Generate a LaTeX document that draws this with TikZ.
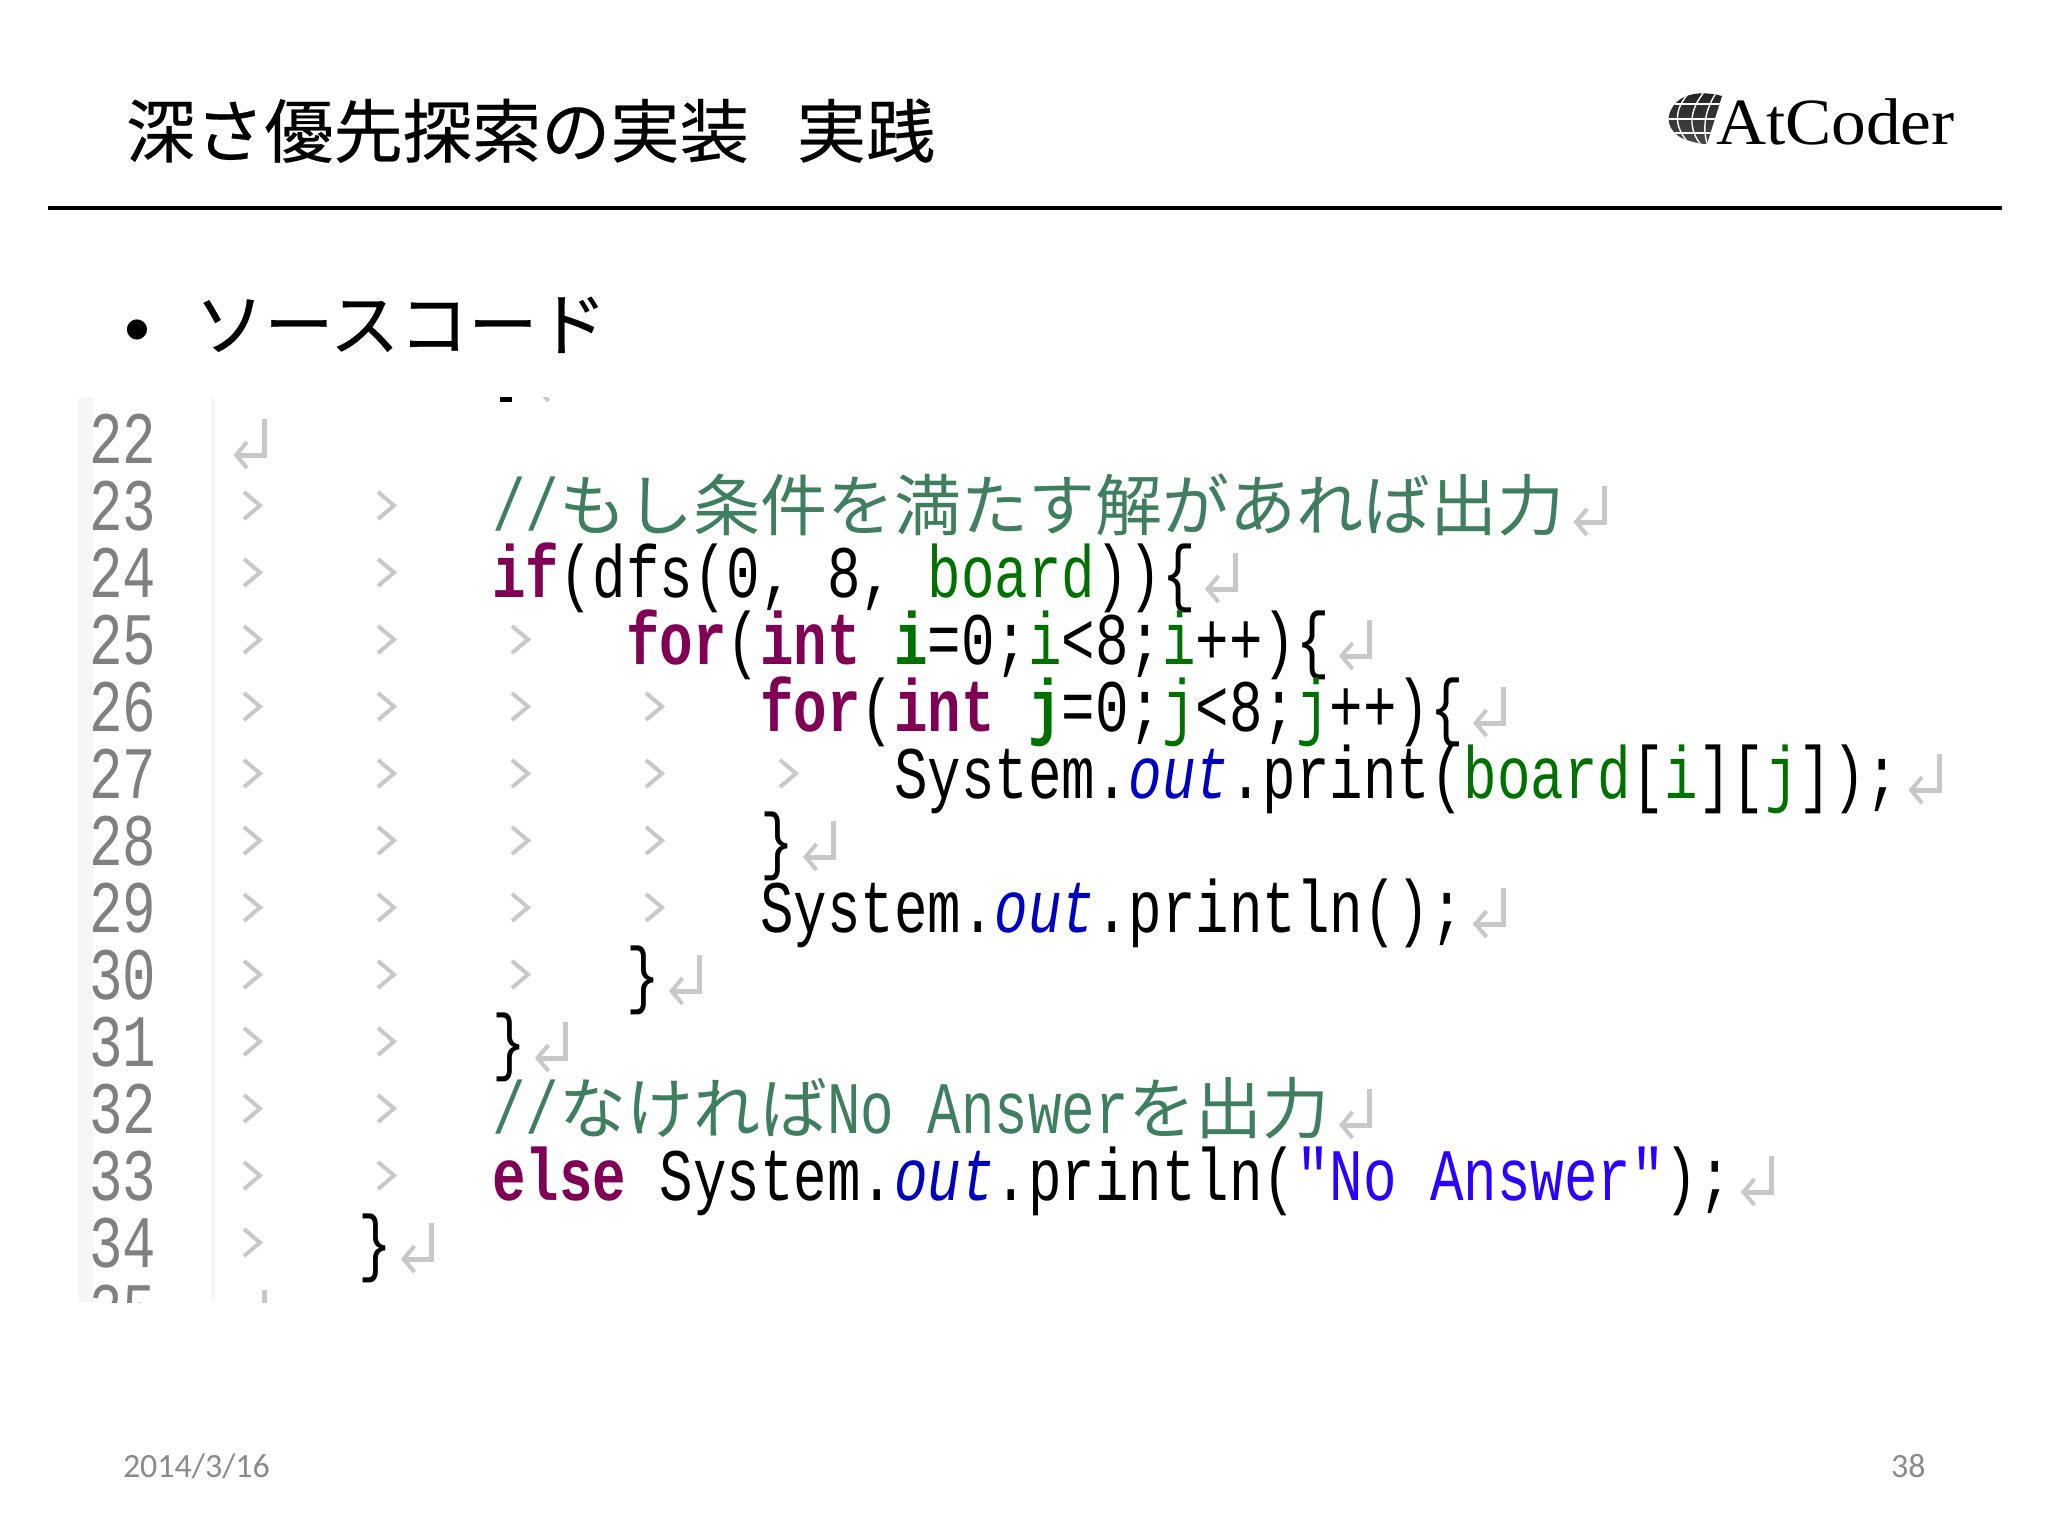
\documentclass[tikz,border=0pt]{standalone}
\usepackage{fontspec}
\setmainfont{Liberation Sans}
\newfontfamily\jp{Noto Sans CJK JP}
\newfontfamily\jph[FakeBold=0.35]{Noto Sans CJK JP}
\newfontfamily\codef[FakeStretch=0.7545]{Liberation Mono}
\newfontfamily\logof[FakeStretch=1.05]{Liberation Serif}
\newfontfamily\foot{Carlito}
\definecolor{kwc}{HTML}{7F0055}
\definecolor{cmc}{HTML}{3F7F5F}
\definecolor{fdc}{HTML}{0000C0}
\definecolor{stc}{HTML}{2A00FF}
\definecolor{lvc}{HTML}{007000}
\definecolor{mkc}{HTML}{C8C8C8}
\definecolor{nmc}{HTML}{808080}
\definecolor{stripc}{HTML}{F6F6F6}
\definecolor{footc}{HTML}{8B8B8B}
\newcommand{\kw}[1]{\textcolor{kwc}{\bfseries #1}}
\newcommand{\fd}[1]{\textcolor{fdc}{\itshape #1}}
\newcommand{\st}[1]{\textcolor{stc}{#1}}
\newcommand{\lv}[1]{\textcolor{lvc}{#1}}
\newcommand{\lb}[1]{\textcolor{lvc}{\bfseries #1}}
\newcommand{\ja}[1]{{\jp\fontsize{33.5}{33.5}\selectfont #1}}
\newcommand{\basey}[1]{\the\numexpr463+67*(#1-22)\relax}
\tikzset{
  base/.style={anchor=base west,inner sep=0pt,outer sep=0pt},
  codeline/.style={base,font=\codef\fontsize{37}{37}\selectfont},
  lineno/.style={codeline,text=nmc},
  titletext/.style={base,font=\jph\fontsize{34.6}{34.6}\selectfont},
  foottext/.style={base,text=footc,font=\foot\fontsize{17}{17}\selectfont},
  markline/.style={draw=mkc,line width=2pt},
  tabmark/.pic={\draw[markline] (20,-38) -- (36,-24.5) -- (20,-11);},
  retmark/.pic={\draw[markline,line width=2.5pt] (40,-44) -- (40,-8) -- (12,-8);
                \draw[markline] (23,-21) -- (12,-8) -- (23,5);},
  strip/.style={fill=stripc,draw=none},
}
\newcommand{\codeat}[4]{\node[codeline] (#1) at ({224+33.5*#3},{\basey{#2}}) {#4};}
\newcommand{\retat}[2]{\pic at ({224+33.5*#2},{\basey{#1}}) {retmark};}
\newcommand{\tabsat}[2]{\foreach \k in {1,...,#2}{\pic at ({224+33.5*4*(\k-1)},{\basey{#1}}) {tabmark};}}
\begin{document}
\begin{tikzpicture}[x=0.5pt,y=-0.5pt]
\useasboundingbox (0,0) rectangle (2048,1536);
\fill[white] (0,0) rectangle (2048,1536);

% heading
\node[titletext] (title) at (126,157) {深さ優先探索の実装\hspace{24pt}実践};
\draw[line width=2.4pt] (48,208) -- (2002,208);

% logo
\begin{scope}
  \path[clip] (1722,96) .. controls (1700,90) and (1680,94) .. (1672,108)
     .. controls (1664,120) and (1670,136) .. (1690,141)
     .. controls (1696,143) and (1702,144) .. (1707,144) -- cycle;
  \shade[top color=black!88,bottom color=black!70] (1660,88) rectangle (1730,148);
  \draw[white,line width=.7pt] (1662,104) -- (1730,104) (1662,119) -- (1730,119) (1662,133) -- (1730,133);
  \draw[white,line width=.7pt]
     (1690,92) .. controls (1672,110) and (1674,130) .. (1692,146)
     (1706,90) .. controls (1688,110) and (1688,130) .. (1702,146)
     (1718,90) .. controls (1704,110) and (1702,130) .. (1708,146);
\end{scope}
\node[base,font=\logof\fontsize{33}{33}\selectfont] (logo) at (1716,144) {AtCoder};

% bullet
\node[base,font=\fontsize{37}{37}\selectfont] (bullet) at (124,354) {•};
\node[titletext] (head) at (195,350) {ソースコード};

% listing panel
\fill[strip] (78,397) rectangle (93,1302);
\fill[strip] (211,397) rectangle (215,1302);
\fill[black] (500,397) rectangle (512,402);
\begin{scope}
\clip (60,397) rectangle (2048,1302);
\foreach \n in {22,...,35}{
  \node[lineno] (num\n) at (89,{\basey{\n}}) {\n};
}
\retat{21}{9}
\retat{22}{0}
\tabsat{23}{2}
\codeat{l23}{23}{8}{\textcolor{cmc}{//\ja{もし条件を満たす解があれば出力}}}
\retat{23}{40}
\tabsat{24}{2}
\codeat{l24}{24}{8}{\kw{if}(dfs(0, 8, \lv{board}))\{}
\retat{24}{29}
\tabsat{25}{3}
\codeat{l25}{25}{12}{\kw{for}(\kw{int} \lb{i}=0;\lv{i}<8;\lv{i}++)\{}
\retat{25}{33}
\tabsat{26}{4}
\codeat{l26}{26}{16}{\kw{for}(\kw{int} \lb{j}=0;\lv{j}<8;\lv{j}++)\{}
\retat{26}{37}
\tabsat{27}{5}
\codeat{l27}{27}{20}{System.\fd{out}.print(\lv{board}[\lv{i}][\lv{j}]);}
\retat{27}{50}
\tabsat{28}{4}
\codeat{l28}{28}{16}{\}}
\retat{28}{17}
\tabsat{29}{4}
\codeat{l29}{29}{16}{System.\fd{out}.println();}
\retat{29}{37}
\tabsat{30}{3}
\codeat{l30}{30}{12}{\}}
\retat{30}{13}
\tabsat{31}{2}
\codeat{l31}{31}{8}{\}}
\retat{31}{9}
\tabsat{32}{2}
\codeat{l32}{32}{8}{\textcolor{cmc}{//\ja{なければ}No Answer\ja{を出力}}}
\retat{32}{33}
\tabsat{33}{2}
\codeat{l33}{33}{8}{\kw{else} System.\fd{out}.println(\st{"No Answer"});}
\retat{33}{45}
\tabsat{34}{1}
\codeat{l34}{34}{4}{\}}
\retat{34}{5}
\retat{35}{0}
\end{scope}

% footer
\node[foottext] (date) at (123,1477) {2014/3/16};
\node[foottext] (page) at (1891,1477) {38};
\end{tikzpicture}
\end{document}
